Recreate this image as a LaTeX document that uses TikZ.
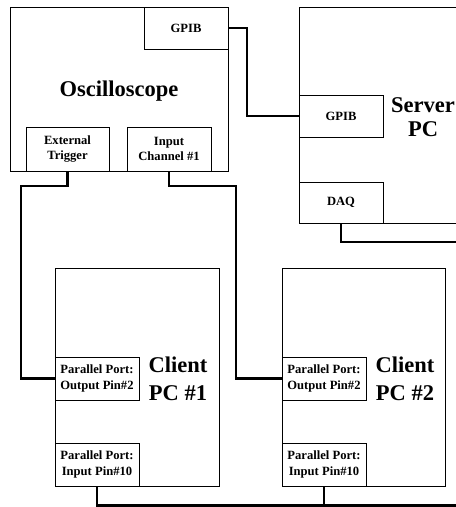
\documentclass[tikz,border=0pt]{standalone}
\usepackage{fontspec}
\setmainfont{Liberation Serif}
\begin{document}
\begin{tikzpicture}[x=1pt,y=-1pt,
  box/.style={draw=black,line width=1pt,fill=white,inner sep=0pt,align=center,font=\fontsize{12.6}{15.5}\selectfont\bfseries},
  big/.style={inner sep=0pt,align=center,font=\fontsize{22.5}{27.5}\selectfont\bfseries},
  conn/.style={draw=black,line width=2.7pt}]
\useasboundingbox (0,0) rectangle (456,507);
\clip (0,0) rectangle (456,507);
% oscilloscope
\node[box,minimum width=218pt,minimum height=164pt] (osc) at (119,89) {};
\node[big] (osct) at (119,91) {Oscilloscope};
\node[box,minimum width=84pt,minimum height=42pt] (ogpib) at (186,28) {GPIB};
\node[box,minimum width=83pt,minimum height=44pt] (ext) at (67.5,149) {External\\Trigger};
\node[box,minimum width=84pt,minimum height=44pt] (inch) at (169,149) {Input\\Channel \#1};
% server
\node[box,minimum width=171pt,minimum height=216pt] (srv) at (384.5,115) {};
\node[big,font=\fontsize{22.5}{23.5}\selectfont\bfseries] (srvt) at (423,117) {Server\\PC};
\node[box,minimum width=84pt,minimum height=42pt] (sgpib) at (341,116) {GPIB};
\node[box,minimum width=84pt,minimum height=41pt] (daq) at (341,202.5) {DAQ};
% client 1
\node[box,minimum width=164pt,minimum height=218pt] (c1) at (137,377) {};
\node[big] (c1t) at (178,379) {Client\\PC \#1};
\node[box,minimum width=84pt,minimum height=43pt] (c1out) at (97,378.5) {Parallel Port:\\Output Pin\#2};
\node[box,minimum width=84pt,minimum height=43pt] (c1in) at (97,464.5) {Parallel Port:\\Input Pin\#10};
% client 2
\node[box,minimum width=163pt,minimum height=218pt] (c2) at (363.5,377) {};
\node[big] (c2t) at (405,379) {Client\\PC \#2};
\node[box,minimum width=84pt,minimum height=43pt] (c2out) at (324,378.5) {Parallel Port:\\Output Pin\#2};
\node[box,minimum width=84pt,minimum height=43pt] (c2in) at (324,464.5) {Parallel Port:\\Input Pin\#10};
% connector points
\coordinate (g1) at (247,28);
\coordinate (a1) at (21,186);
\coordinate (a2) at (236,186);
\coordinate (daqend) at (462,242);
\coordinate (busend) at (462,505.5);
% connectors
\draw[conn] (ogpib.east) -- (g1) |- (sgpib.west);
\draw[conn] (daq.south) |- (daqend);
\draw[conn] (ext.south) |- (a1) |- (c1out.west);
\draw[conn] (inch.south) |- (a2) |- (c2out.west);
\draw[conn] (c1in.south) |- (busend);
\draw[conn] (c2in.south) -- (c2in.south |- busend);
\end{tikzpicture}
\end{document}
